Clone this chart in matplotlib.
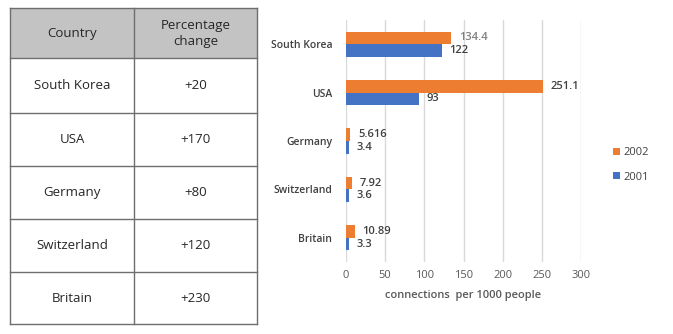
import numpy as np
import matplotlib.pyplot as plt
from matplotlib.patches import Rectangle

plt.rcParams['font.family'] = ['Open Sans', 'DejaVu Sans']

# table data
table_header = ['Country', 'Percentage\nchange']
table_countries = ['South Korea', 'USA', 'Germany', 'Switzerland', 'Britain']
table_change = ['+20', '+170', '+80', '+120', '+230']

# bar chart data
countries = ['South Korea', 'USA', 'Germany', 'Switzerland', 'Britain']
val_2002 = [134.4, 251.1, 5.616, 7.92, 10.89]
val_2001 = [122, 93, 3.4, 3.6, 3.3]
lab_2002 = ['134.4', '251.1', '5.616', '7.92', '10.89']
lab_2001 = ['122', '93', '3.4', '3.6', '3.3']

W, H = 673, 334
fig = plt.figure(figsize=(W / 100, H / 100), dpi=100)

# ---- table (pixel coords) ----
tax = fig.add_axes([0, 0, 1, 1])
tax.set_xlim(0, W)
tax.set_ylim(H, 0)
tax.axis('off')

x0, xm, x1 = 10, 134, 257
rows = [8, 58, 113, 166, 219, 272, 324]
tax.add_patch(Rectangle((x0, rows[0]), x1 - x0, rows[1] - rows[0],
                        facecolor='#c3c3c3', edgecolor='none'))
lc = '#6e6e6e'
for y in rows:
    tax.plot([x0, x1], [y, y], color=lc, lw=1)
for x in [x0, xm, x1]:
    tax.plot([x, x], [rows[0], rows[-1]], color=lc, lw=1)

tc = '#262626'
cy = (rows[0] + rows[1]) / 2
tax.text((x0 + xm) / 2, cy, table_header[0], ha='center', va='center', fontsize=9.5, color=tc)
tax.text((xm + x1) / 2, cy, table_header[1], ha='center', va='center', fontsize=9.5, color=tc,
         linespacing=1.3)
for i in range(len(table_countries)):
    cy = (rows[i + 1] + rows[i + 2]) / 2
    tax.text((x0 + xm) / 2, cy, table_countries[i], ha='center', va='center', fontsize=9.5, color=tc)
    tax.text((xm + x1) / 2, cy, table_change[i], ha='center', va='center', fontsize=9.5, color=tc)

# ---- bar chart ----
ax_l, ax_r, ax_t, ax_b = 346, 581, 20, 262
ax = fig.add_axes([ax_l / W, 1 - ax_b / H, (ax_r - ax_l) / W, (ax_b - ax_t) / H])

y = np.arange(len(countries))
bh = 0.26
ax.barh(y - bh / 2, val_2002, height=bh, color='#ed7d31', label='2002', zorder=3)
ax.barh(y + bh / 2, val_2001, height=bh, color='#4472c4', label='2001', zorder=3)

for i in range(len(countries)):
    c = '#7f7f7f' if i == 0 else '#404040'
    ax.text(val_2002[i] + 10, y[i] - bh / 2, lab_2002[i], va='center', ha='left',
            fontsize=8, color=c, fontweight='semibold')
    ax.text(val_2001[i] + 10, y[i] + bh / 2, lab_2001[i], va='center', ha='left',
            fontsize=8, color='#404040', fontweight='semibold')

ax.set_xlim(0, 300)
ax.set_ylim(len(countries) - 0.5, -0.5)
ax.set_xticks(range(0, 301, 50))
ax.set_yticks(y)
ax.set_yticklabels(countries, fontsize=7.5, color='#404040', fontweight='semibold')
ax.tick_params(axis='x', labelsize=8, colors='#595959', length=0, pad=6)
ax.tick_params(axis='y', length=0, pad=10)
ax.grid(axis='x', color='#d9d9d9', lw=1, zorder=0)
for s in ax.spines.values():
    s.set_visible(False)
ax.set_xlabel('connections  per 1000 people', fontsize=8, color='#595959',
              fontweight='semibold', labelpad=6)

h, l = ax.get_legend_handles_labels()
fig.legend(h, l, loc='center left', bbox_to_anchor=(603 / W, 1 - 165 / H),
           frameon=False, fontsize=8, handlelength=0.6, handleheight=0.6,
           handletextpad=0.3, labelspacing=1.2, labelcolor='#404040')

fig.savefig('out.png', dpi=100, facecolor='white')
